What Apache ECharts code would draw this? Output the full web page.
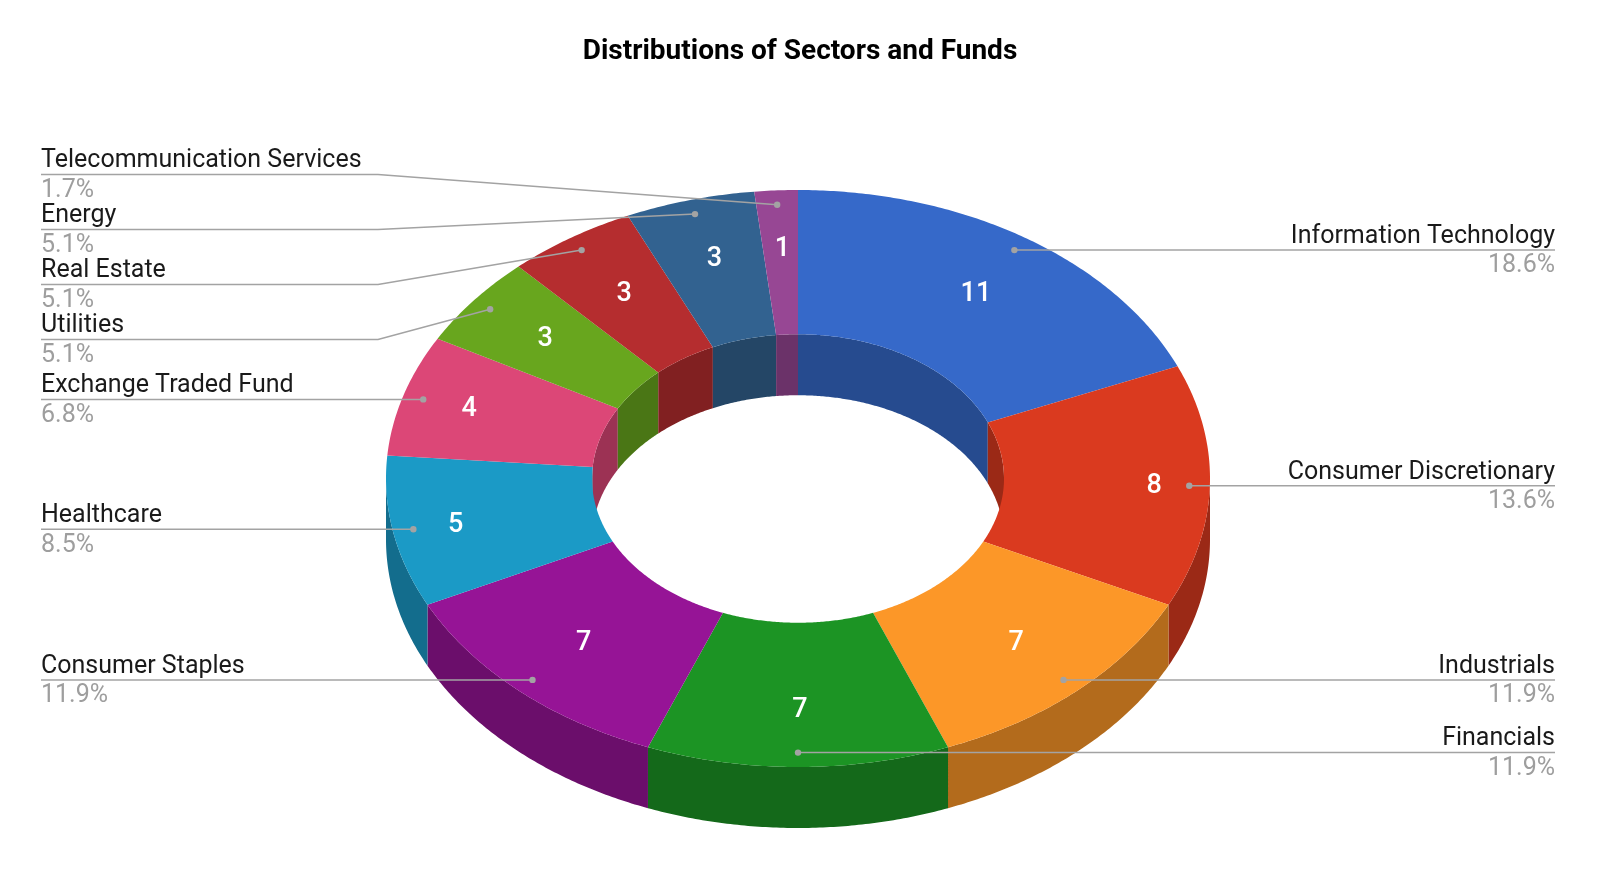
<!DOCTYPE html>
<html>
<head>
<meta charset="utf-8">
<script src="https://cdn.jsdelivr.net/npm/echarts@6/dist/echarts.min.js"></script>
<style>
  html, body { margin: 0; padding: 0; background: #ffffff; }
  #chart { width: 1600px; height: 873px; }
</style>
</head>
<body>
<div id="chart"></div>
<script>
// ---- data ----
const categories = [
  'Information Technology', 'Consumer Discretionary', 'Industrials', 'Financials',
  'Consumer Staples', 'Healthcare', 'Exchange Traded Fund', 'Utilities',
  'Real Estate', 'Energy', 'Telecommunication Services'
];
const counts = [11, 8, 7, 7, 7, 5, 4, 3, 3, 3, 1];
const titleText = 'Distributions of Sectors and Funds';

// ---- style ----
const palette = ['#3669c9', '#da3a1f', '#fc9728', '#1c9424', '#961496', '#1b9ac6',
                 '#dc4777', '#68a61e', '#b52d2f', '#326290', '#974794'];
const FONT = 'Roboto';
const CX = 798, CY = 478.5, RX = 412, RY = 288.5, INNER = 0.5, DEPTH = 61;
const DOT_R = 0.95, LABEL_GAP = 55;
const LEFT_X = 41, RIGHT_X = 1555, BEND = 8;
const LINE_COLOR = '#a3a3a3';

function shade(hex, k) {
  const n = parseInt(hex.slice(1), 16);
  const r = Math.round(((n >> 16) & 255) * k), g = Math.round(((n >> 8) & 255) * k), b = Math.round((n & 255) * k);
  return 'rgb(' + r + ',' + g + ',' + b + ')';
}
const rad = d => d * Math.PI / 180;
function pt(theta, r, dz) {
  return [CX + RX * r * Math.sin(rad(theta)), CY - RY * r * Math.cos(rad(theta)) + (dz || 0)];
}
function arc(a, b, r, dz) {
  const n = Math.max(2, Math.ceil(Math.abs(b - a) / 0.5));
  const out = [];
  for (let i = 0; i <= n; i++) out.push(pt(a + (b - a) * i / n, r, dz));
  return out;
}
// radial placement of the in-slice value label (slightly further out towards the sides)
function numRadius(theta) {
  return 0.803 - 0.03 * Math.cos(rad(2 * theta)) + 0.027 * Math.cos(rad(4 * theta));
}

// ---- geometry derived from data ----
const total = counts.reduce((s, v) => s + v, 0);
let acc = 0;
const slices = counts.map((v, i) => {
  const a0 = acc / total * 360;
  acc += v;
  const a1 = acc / total * 360;
  const mid = (a0 + a1) / 2;
  const dot = pt(mid, DOT_R);
  return { i, v, a0, a1, mid, dot, side: mid <= 180 + 1e-6 ? 'right' : 'left', labelY: dot[1] };
});

// label layout: cluster overlapping labels, centre cluster on its desired range
function layoutSide(side) {
  const items = slices.filter(s => s.side === side).sort((p, q) => p.dot[1] - q.dot[1]);
  const cl = items.map(it => ({ m: [it] }));
  const place = c => {
    const ds = c.m.map(x => x.dot[1]);
    const mid = (Math.min(...ds) + Math.max(...ds)) / 2;
    c.start = mid - (c.m.length - 1) * LABEL_GAP / 2;
  };
  cl.forEach(place);
  let changed = true;
  while (changed) {
    changed = false;
    for (let k = 0; k < cl.length - 1; k++) {
      const a = cl[k], b = cl[k + 1];
      const aEnd = a.start + (a.m.length - 1) * LABEL_GAP;
      if (b.start - aEnd < LABEL_GAP - 0.01) {
        a.m = a.m.concat(b.m); cl.splice(k + 1, 1); place(a); changed = true; break;
      }
    }
  }
  cl.forEach(c => c.m.forEach((it, j) => { it.labelY = c.start + j * LABEL_GAP; }));
}
layoutSide('left');
layoutSide('right');

function renderSlice(params) {
  const s = slices[params.dataIndex];
  const col = palette[s.i % palette.length];
  const side = shade(col, 0.71);
  const children = [];
  // inner walls (back half of the hole, visible where cos > 0)
  [[0, 90], [270, 360]].forEach(([lo, hi]) => {
    const a = Math.max(lo, s.a0), b = Math.min(hi, s.a1);
    if (b > a) {
      const pts = arc(a, b, INNER, 0).concat(arc(b, a, INNER, DEPTH));
      children.push({ type: 'polygon', z2: 1, shape: { points: pts }, style: { fill: side } });
    }
  });
  // outer walls (front half)
  {
    const a = Math.max(90, s.a0), b = Math.min(270, s.a1);
    if (b > a) {
      const pts = arc(a, b, 1, 0).concat(arc(b, a, 1, DEPTH));
      children.push({ type: 'polygon', z2: 2, shape: { points: pts }, style: { fill: side } });
    }
  }
  // top face
  const top = arc(s.a0, s.a1, 1, 0).concat(arc(s.a1, s.a0, INNER, 0));
  children.push({ type: 'polygon', z2: 10, shape: { points: top }, style: { fill: col } });
  // value label
  const np = pt(s.mid, numRadius(s.mid));
  children.push({ type: 'text', z2: 30, style: {
    text: String(s.v), x: np[0] + 2, y: np[1] + 1, align: 'center', verticalAlign: 'middle',
    fill: '#ffffff', fontFamily: FONT, fontSize: 27, fontWeight: 500 } });
  // leader line and dot
  const ly = s.labelY;
  let linePts;
  if (s.side === 'left') {
    linePts = [s.dot, [CX - RX - BEND, ly], [LEFT_X, ly]];
  } else {
    linePts = [s.dot, [CX + RX + BEND, ly], [RIGHT_X, ly]];
  }
  children.push({ type: 'polyline', z2: 20, shape: { points: linePts },
    style: { stroke: LINE_COLOR, lineWidth: 1.5, fill: null } });
  children.push({ type: 'circle', z2: 21, shape: { cx: s.dot[0], cy: s.dot[1], r: 3.2 },
    style: { fill: LINE_COLOR } });
  // outside labels
  const tx = s.side === 'left' ? LEFT_X : RIGHT_X;
  const al = s.side === 'left' ? 'left' : 'right';
  children.push({ type: 'text', z2: 30, style: {
    text: categories[s.i], x: tx, y: ly - 13.5, align: al, verticalAlign: 'middle',
    fill: '#1a1a1a', fontFamily: FONT, fontSize: 25 } });
  children.push({ type: 'text', z2: 30, style: {
    text: (s.v / total * 100).toFixed(1) + '%', x: tx, y: ly + 16, align: al, verticalAlign: 'middle',
    fill: '#9e9e9e', fontFamily: FONT, fontSize: 25 } });
  return { type: 'group', children };
}

const chart = echarts.init(document.getElementById('chart'), null, { renderer: 'canvas' });
chart.setOption({
  backgroundColor: '#ffffff',
  animation: false,
  title: {
    text: titleText, left: 'center', top: 33,
    textStyle: { fontFamily: FONT, fontSize: 28, fontWeight: 'bold', color: '#000000' }
  },
  series: [{
    type: 'custom',
    coordinateSystem: 'none',
    silent: true,
    renderItem: renderSlice,
    data: counts.map((v, i) => [i, v])
  }]
});
</script>
</body>
</html>
